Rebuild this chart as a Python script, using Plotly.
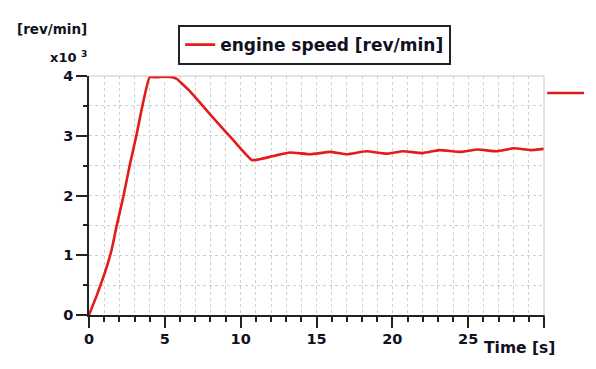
import plotly.graph_objects as go

# --- data ---
time_s = [0, 0.5, 0.9, 1.2, 1.5, 1.83, 2.28, 2.68, 3.12, 3.52, 4.0, 4.5, 5.0, 5.5, 5.8, 6.1, 6.6,
          7.5, 8.5, 9.5, 10.3, 10.75, 11.3, 12.3, 13.25, 14.6, 15.9, 17.0, 18.3, 19.6,
          20.7, 22.0, 23.1, 24.5, 25.6, 26.9, 28.0, 29.1, 30.0]
speed_k = [0, 0.32, 0.60, 0.83, 1.1, 1.5, 2.0, 2.5, 3.0, 3.5, 3.98, 3.98, 3.99, 3.98, 3.95, 3.88, 3.76,
           3.50, 3.21, 2.93, 2.70, 2.59, 2.61, 2.67, 2.72, 2.69, 2.73, 2.69, 2.74, 2.70,
           2.74, 2.71, 2.76, 2.73, 2.77, 2.74, 2.79, 2.76, 2.78]
x_tick_vals = [0, 5, 10, 15, 20, 25, 30]
x_tick_text = ["0", "5", "10", "15", "20", "25", ""]
y_tick_vals = [0, 1, 2, 3, 4]
y_tick_text = ["0", "1", "2", "3", "4"]
series_name = "engine speed [rev/min]"

RED = "#e31b1b"
FONT = "DejaVu Sans"
TXT = "#111122"

# the page body adds an 8px offset; size the figure so the plot lands in place
fig = go.Figure()
fig.add_trace(go.Scatter(
    x=time_s, y=speed_k, mode="lines", name=series_name,
    line=dict(color=RED, width=2.6, shape="spline", smoothing=0.4),
))

fig.update_layout(
    width=588, height=361,
    margin=dict(l=81, r=52, t=68, b=54),
    paper_bgcolor="white", plot_bgcolor="white",
    font=dict(family=FONT, color=TXT),
    showlegend=True,
    legend=dict(
        x=0.196, y=1.213, xanchor="left", yanchor="top",
        bordercolor="#222222", borderwidth=2, bgcolor="white",
        font=dict(family=FONT, size=17, color=TXT, weight="bold"),
        itemwidth=30,
    ),
    xaxis=dict(
        range=[0, 30], tickvals=x_tick_vals, ticktext=x_tick_text,
        ticks="outside", ticklen=11, tickwidth=1.5, tickcolor="#222",
        showline=True, linecolor="#222", linewidth=1.5,
        showgrid=True, gridcolor="#cfcfcf", griddash="dot", gridwidth=1,
        zeroline=False, ticklabelstandoff=-1,
        tickfont=dict(family=FONT, size=14.5, color=TXT, weight="bold"),
        minor=dict(dtick=1, ticks="outside", ticklen=5, tickcolor="#222",
                   showgrid=True, gridcolor="#cfcfcf", griddash="dot", gridwidth=1),
    ),
    yaxis=dict(
        range=[0, 4], tickvals=y_tick_vals, ticktext=y_tick_text,
        ticks="outside", ticklen=11, tickwidth=1.5, tickcolor="#222",
        showline=True, linecolor="#222", linewidth=1.5,
        showgrid=True, gridcolor="#cfcfcf", griddash="dot", gridwidth=1,
        zeroline=False,
        tickfont=dict(family=FONT, size=14.5, color=TXT, weight="bold"),
        minor=dict(dtick=0.5, ticks="outside", ticklen=4, tickcolor="#222",
                   showgrid=True, gridcolor="#cfcfcf", griddash="dot", gridwidth=1),
    ),
    shapes=[
        dict(type="line", xref="paper", yref="paper", x0=0, x1=1, y0=1, y1=1,
             line=dict(color="#c8c8c8", width=1)),
        dict(type="line", xref="paper", yref="paper", x0=1, x1=1, y0=0, y1=1,
             line=dict(color="#c8c8c8", width=1)),
        dict(type="line", xref="paper", yref="paper", x0=1, x1=1, y0=0, y1=-0.046,
             line=dict(color="#222", width=1.5)),
        dict(type="line", xref="paper", yref="paper", x0=1.007, x1=1.088, y0=0.929, y1=0.929,
             line=dict(color=RED, width=2.5)),
    ],
    annotations=[
        dict(text="[rev/min]", xref="paper", yref="paper", x=0.0, y=1.197,
             xanchor="right", yanchor="middle", showarrow=False,
             font=dict(family=FONT, size=13.5, color=TXT, weight="bold")),
        dict(text="x10 <sup>3</sup>", xref="paper", yref="paper", x=0.0, y=1.08,
             xanchor="right", yanchor="middle", showarrow=False,
             font=dict(family=FONT, size=13, color=TXT, weight="bold")),
        dict(text="Time [s]", xref="paper", yref="paper", x=1.0286, y=-0.138,
             xanchor="right", yanchor="middle", showarrow=False,
             font=dict(family=FONT, size=15.5, color=TXT, weight="bold")),
    ],
)

fig.write_html("out.html")
